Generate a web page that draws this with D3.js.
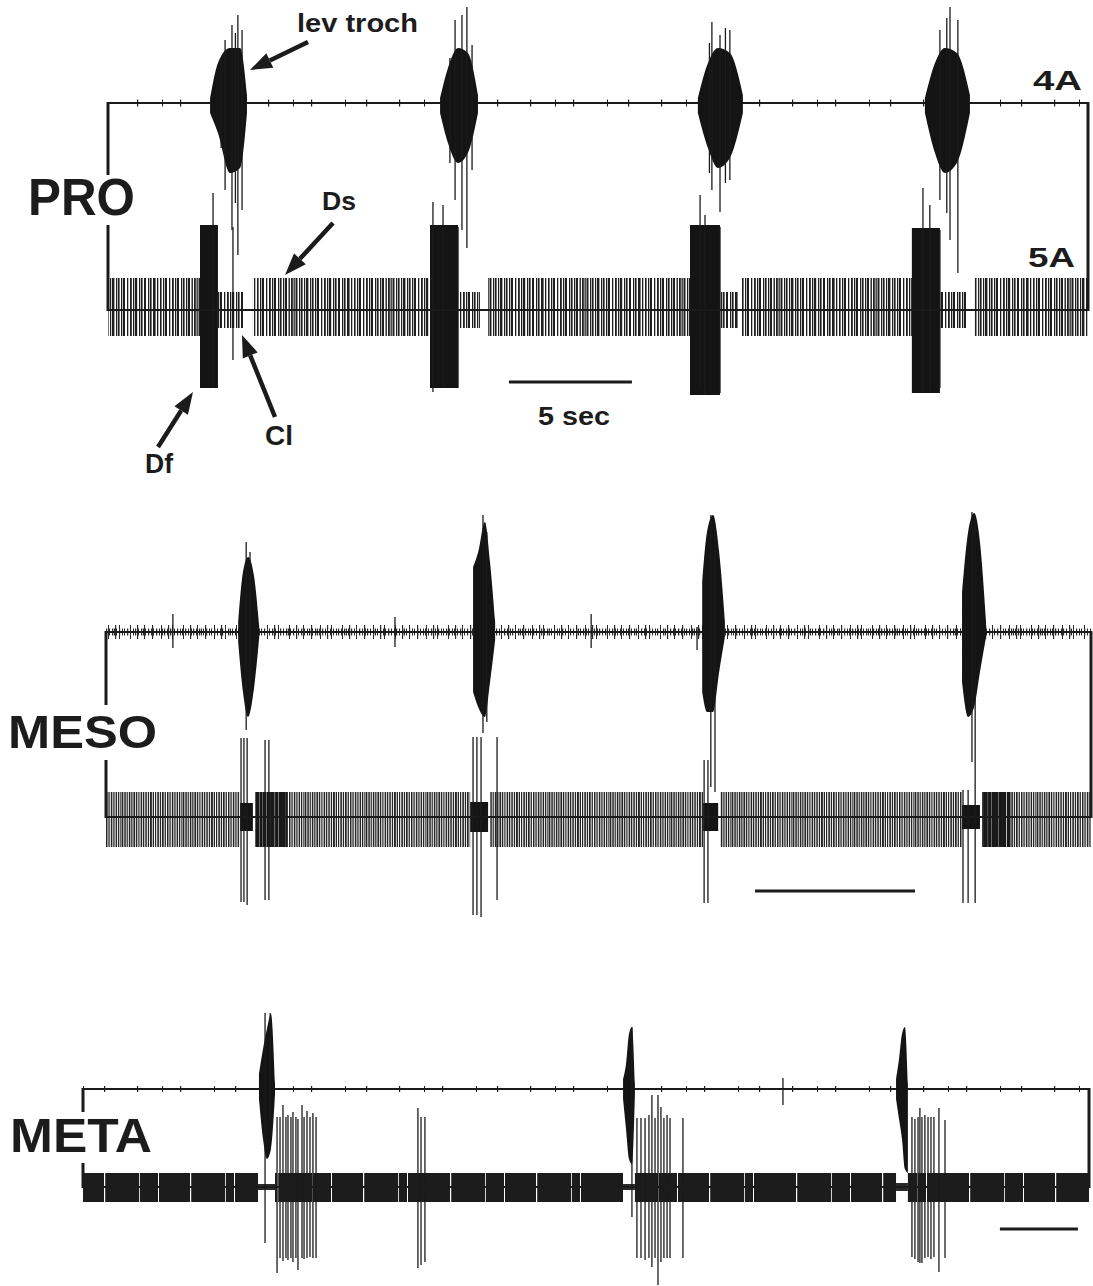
<!DOCTYPE html>
<html>
<head>
<meta charset="utf-8">
<script src="https://cdn.jsdelivr.net/npm/d3@7"></script>
<style>
  body { margin: 0; background: #fff; }
  svg { display: block; }
  text { font-family: "Liberation Sans", Arial, Helvetica, sans-serif; font-weight: bold; fill: #1c1c1c; }
</style>
</head>
<body>
<div id="fig"></div>
<script>
// ---- data (time in seconds, amplitude in relative units, 1 = full gain step) ----

// PRO : 4A (lev troch) bursts, envelope points [t, up, down] + outlying spikes [t, up, down]
const proDuration = 39.84;
const pro4aBursts = [
  { env: [[4.15, .05, .10], [4.47, .40, .30], [4.96, .55, .70], [5.37, .55, .65], [5.65, .08, .10]],
    spikes: [[4.60, .45, .45], [4.76, .63, .87], [5.04, .78, 1.27], [5.18, .70, 1.00], [5.28, .88, 1.52], [5.45, .73, 1.07]] },
  { env: [[13.50, .05, .10], [13.82, .35, .40], [14.23, .55, .60], [14.63, .50, .50], [15.04, .08, .10]],
    spikes: [[13.90, .45, .60], [14.11, .83, .97], [14.39, .88, 1.27], [14.59, .96, 1.45], [14.80, .58, .67]] },
  { env: [[23.98, .05, .10], [24.39, .40, .45], [24.80, .55, .65], [25.28, .50, .55], [25.81, .08, .10]],
    spikes: [[24.45, .60, .70], [24.55, .81, .87], [24.88, .68, 1.09], [25.10, .75, .80], [25.28, .73, .77]] },
  { env: [[33.21, .05, .10], [33.62, .40, .50], [34.02, .55, .70], [34.51, .50, .60], [35.04, .08, .10]],
    spikes: [[33.82, .73, .97], [34.10, .85, 1.10], [34.23, .96, 1.37], [34.55, .83, 1.70]] }
];
// PRO : 5A (Ds tonic, Df bursts, Cl)
const pro5aTonic = [[0, 3.74], [5.89, 13.09], [15.45, 23.66], [25.77, 32.68], [35.24, 39.84]];
const pro5aTonicAmp = [.32, .26];
const pro5aDf = [[3.74, 4.47, .85, .78], [13.09, 14.23, .85, .78], [23.66, 24.88, .85, .85], [32.68, 33.82, .82, .83]];
const pro5aCl = [[4.47, 5.57], [14.23, 15.12], [24.88, 25.61], [33.82, 34.88]];
const pro5aClAmp = [.18, .18];
const pro5aSpikes = [[4.27, 1.17, .78], [5.08, .83, .50], [13.21, 1.08, .82], [13.62, 1.05, .78], [14.23, .83, .78],
  [24.07, 1.15, .80], [24.27, .95, .85], [24.88, .83, .83], [33.13, 1.22, .83], [33.41, 1.05, .80], [33.82, .80, .78]];

// MESO
const mesoDuration = 30.78;
const meso4aBursts = [
  { env: [[4.13, .10, .10], [4.28, .60, .60], [4.44, .75, .85], [4.63, .55, .55], [4.78, .08, .08]],
    spikes: [[4.38, .90, .98], [4.50, .80, .70]] },
  { env: [[11.47, .65, .60], [11.63, .80, .75], [11.84, 1.10, .85], [12.00, .70, .50], [12.16, .10, .08]],
    spikes: [[11.78, 1.17, 1.01], [11.90, 1.00, .90]] },
  { env: [[18.63, .50, .60], [18.78, 1.00, .80], [18.97, 1.17, .80], [19.16, .80, .40], [19.34, .10, .05]],
    spikes: [[18.90, 1.17, 1.55], [19.03, 1.05, 1.60]] },
  { env: [[26.75, .40, .50], [26.94, 1.00, .85], [27.13, 1.19, .75], [27.31, .90, .40], [27.50, .10, .05]],
    spikes: [[27.06, 1.20, 1.30], [27.16, 1.15, 1.58]] }
];
const meso4aIsolated = [[2.09, .18, .16], [9.03, .15, .15], [15.16, .18, .16], [18.47, .05, .18]];
const meso5aTonic = [[0, 4.19], [4.66, 11.38], [12.00, 18.66], [19.19, 26.75], [27.38, 30.78]];
const meso5aTonicAmp = [.25, .30];
const meso5aDense = [[4.66, 5.66, .25, .30], [27.38, 28.30, .25, .30]];
const meso5aDf = [[4.19, 4.59, .14, .14], [11.38, 11.94, .15, .15], [18.66, 19.13, .14, .14], [26.75, 27.31, .12, .12]];
const meso5aSpikes = [[4.22, .79, .85], [4.31, .79, .85], [4.41, .79, .88], [4.97, .77, .83], [5.09, .77, .83],
  [11.47, .80, .98], [11.59, .80, .98], [11.72, .80, 1.00], [12.22, .80, .83],
  [18.69, .57, .86], [18.81, .57, .86], [26.78, .27, .86], [26.94, .27, .86], [27.16, .27, .86]];

// META
const metaDuration = 64.49;
const meta4aBursts = [
  { env: [[11.28, .15, .10], [11.54, .40, .50], [11.79, .60, .70], [12.05, .75, .60], [12.31, .05, .05]],
    spikes: [[11.67, .76, 1.54], [12.00, .76, .30]] },
  { env: [[34.62, .10, .10], [34.81, .25, .40], [35.00, .55, .70], [35.19, .62, .75], [35.38, .05, .05]],
    spikes: [[35.19, .62, 1.28]] },
  { env: [[52.12, .10, .10], [52.31, .30, .30], [52.50, .55, .50], [52.69, .62, .80], [52.88, .05, .84]],
    spikes: [] }
];
const meta4aIsolated = [[44.87, .11, .16]];
const meta5aTonic = [[0, 11.22], [12.31, 34.62], [35.38, 52.12], [52.88, 64.49]];
const meta5aTonicAmp = [.14, .15];
const meta5aQuiet = [[11.22, 12.31, .03, .03], [34.62, 35.38, .03, .03], [52.12, 52.88, .04, .04]];
const meta5aSpikes = [
  [12.44, .70, .86], [12.63, .70, .71], [12.82, .82, .74], [13.01, .70, .71], [13.14, .72, .73],
  [13.33, .70, .71], [13.46, .75, .75], [13.65, .70, .71], [13.78, .68, .83], [14.04, .82, .71],
  [14.17, .70, .72], [14.36, .76, .71], [14.55, .70, .70], [14.74, .74, .71], [14.94, .70, .71],
  [21.47, .79, .81], [21.67, .70, .78], [21.92, .70, .75],
  [35.51, .69, .71], [35.77, .69, .71], [36.03, .69, .73], [36.28, .72, .71], [36.47, .92, .80],
  [36.67, .69, .71], [36.86, .92, .98], [37.05, .80, .75], [37.24, .69, .71], [37.44, .72, .71],
  [37.63, .69, .71], [38.46, .69, .71],
  [53.14, .70, .70], [53.33, .68, .72], [53.53, .70, .75], [53.65, .79, .76], [53.78, .70, .76],
  [53.97, .72, .71], [54.17, .70, .70], [54.36, .70, .72], [54.55, .70, .70], [54.87, .79, .85], [55.26, .67, .71]
];

// 5 s calibration bars (start time in each panel)
const scaleBarStarts = [16.30, 20.28, 58.78];
const scaleBarLength = 5;

// ---- layout / style ----
const W = 1093, H = 1286, ink = "#1b1b1b";
const svg = d3.select("#fig").append("svg").attr("width", W).attr("height", H);
const defs = svg.append("defs");

// spike textures: [offset, width] stripes repeated along the trace
function stripePattern(id, width, stripes, color, bg) {
  const p = defs.append("pattern").attr("id", id)
    .attr("patternUnits", "userSpaceOnUse").attr("width", width).attr("height", H);
  if (bg) p.append("rect").attr("width", width).attr("height", H).attr("fill", bg);
  p.selectAll("rect.s").data(stripes).join("rect").attr("class", "s")
    .attr("x", d => d[0]).attr("width", d => d[1]).attr("height", H).attr("fill", color);
}
stripePattern("tonicPro", 97, [[0, 1.8], [2.5, 1.3], [4.5, 2], [8, 1.3], [10, 1.6], [13, 1.2], [15, 2.4], [19, 1.3],
  [21, 1.6], [24, 1.3], [26, 2], [30, 1.3], [33, 1.8], [36, 1.3], [38, 2.2], [42, 1.3], [44, 1.6], [47, 2],
  [51, 1.3], [53, 1.6], [56, 2.6], [60, 1.3], [63, 1.6], [66, 1.3], [68, 2], [72, 1.3], [75, 1.8], [78, 1.3],
  [80, 2], [84, 1.3], [86, 1.6], [89, 1.3], [91, 2], [94.5, 1.4]], "#1f1f1f");
stripePattern("tonicMeso", 61, [[0, 1.4], [2.3, 1.5], [4.6, 1.2], [6.8, 1.6], [9.2, 1.3], [11.4, 1.8], [14, 1.3],
  [16.3, 1.2], [18.6, 1.6], [21, 1.3], [23.3, 1.5], [25.8, 1.3], [28, 1.9], [30.7, 1.3], [33, 1.2], [35.3, 1.6],
  [37.8, 1.3], [40, 1.7], [42.6, 1.3], [45, 1.5], [47.4, 1.3], [49.8, 1.6], [52.3, 1.3], [54.6, 1.5], [57, 1.3],
  [59.3, 1.2]], "#262626");
stripePattern("denseMeso", 23, [[0, 2.5], [3, 3.5], [7, 2.5], [10, 3.5], [14, 3], [18, 3.5]], "#181818");
stripePattern("tonicMeta", 173, [[17, 1.2], [52, 0.8], [61, 1], [104, 1.2], [139, 0.8], [158, 1]], "#ffffff", "#1c1c1c");
stripePattern("ticksSparse", 131, [[6, 1.2], [31, 1], [49, 1.2], [83, 1], [104, 1.2]], ink);
stripePattern("noiseMeso", 29, [[0, 1], [3, 1.2], [6, 1], [8, 1], [11, 1.3], [14, 1], [17, 1], [19, 1.2],
  [22, 1], [25, 1.3], [27, 1]], "#2a2a2a");
stripePattern("noiseMesoSparse", 53, [[2, 1], [9, 1.2], [13, 1], [24, 1], [31, 1.2], [38, 1], [46, 1.2]], "#2a2a2a");

const panels = [
  { duration: proDuration, x0: 108, x1: 1088, top: 103, bottom: 310, gap: [175, 225], barY: 382,
    bursts: pro4aBursts, isolated: [], noise: [["ticksSparse", .035]],
    tonic: pro5aTonic, tonicAmp: pro5aTonicAmp, tonicFill: "tonicPro",
    blocks: [...pro5aDf.map(d => [...d, "#141414"]), ...pro5aCl.map(d => [...d, ...pro5aClAmp, "url(#tonicPro)"])],
    spikes: pro5aSpikes },
  { duration: mesoDuration, x0: 106, x1: 1091, top: 632, bottom: 817, gap: [705, 760], barY: 891,
    bursts: meso4aBursts, isolated: meso4aIsolated, noise: [["noiseMesoSparse", .07], ["noiseMeso", .035]],
    tonic: meso5aTonic, tonicAmp: meso5aTonicAmp, tonicFill: "tonicMeso",
    blocks: [...meso5aDense.map(d => [...d, "url(#denseMeso)"]), ...meso5aDf.map(d => [...d, "#141414"])],
    spikes: meso5aSpikes },
  { duration: metaDuration, x0: 83, x1: 1089, top: 1089, bottom: 1187, gap: [1112, 1163], barY: 1229,
    bursts: meta4aBursts, isolated: meta4aIsolated, noise: [["ticksSparse", .03]],
    tonic: meta5aTonic, tonicAmp: meta5aTonicAmp, tonicFill: "tonicMeta",
    blocks: meta5aQuiet.map(d => [...d, "#2a2a2a"]),
    spikes: meta5aSpikes }
];

function drawPanel(p, i) {
  const g = svg.append("g");
  const x = d3.scaleLinear().domain([0, p.duration]).range([p.x0, p.x1]);
  const yTop = d3.scaleLinear().domain([-1, 1]).range([p.top + 100, p.top - 100]);
  const yBot = d3.scaleLinear().domain([-1, 1]).range([p.bottom + 100, p.bottom - 100]);

  // 5A tonic firing
  g.selectAll(".tonic").data(p.tonic).join("rect")
    .attr("x", d => x(d[0])).attr("width", d => x(d[1]) - x(d[0]))
    .attr("y", yBot(p.tonicAmp[0])).attr("height", yBot(-p.tonicAmp[1]) - yBot(p.tonicAmp[0]))
    .attr("fill", `url(#${p.tonicFill})`);

  // bursts / dense blocks on 5A
  g.selectAll(".block").data(p.blocks).join("rect")
    .attr("x", d => x(d[0])).attr("width", d => x(d[1]) - x(d[0]))
    .attr("y", d => yBot(d[2])).attr("height", d => yBot(-d[3]) - yBot(d[2]))
    .attr("fill", d => d[4]);

  // background noise on 4A
  p.noise.forEach(([pat, a]) => {
    g.append("rect").attr("x", x(0)).attr("width", x(p.duration) - x(0))
      .attr("y", yTop(a)).attr("height", yTop(-a) - yTop(a)).attr("fill", `url(#${pat})`);
  });

  // baselines
  [p.top, p.bottom].forEach(yy => g.append("line")
    .attr("x1", p.x0).attr("x2", p.x1).attr("y1", yy).attr("y2", yy)
    .attr("stroke", ink).attr("stroke-width", 2));

  // brackets joining the two records
  const br = g.append("g").attr("stroke", ink).attr("stroke-width", 3).attr("fill", "none");
  br.append("line").attr("x1", p.x0).attr("x2", p.x0).attr("y1", p.top - 1).attr("y2", p.gap[0]);
  br.append("line").attr("x1", p.x0).attr("x2", p.x0).attr("y1", p.gap[1]).attr("y2", p.bottom + 1);
  br.append("line").attr("x1", p.x1).attr("x2", p.x1).attr("y1", p.top - 1).attr("y2", p.bottom + 1);

  // 4A bursts
  const area = d3.area().x(d => x(d[0])).y0(d => yTop(-d[2])).y1(d => yTop(d[1])).curve(d3.curveMonotoneX);
  g.selectAll(".burst").data(p.bursts).join("path")
    .attr("d", d => area(d.env)).attr("fill", "#141414");

  const spikes4a = p.bursts.flatMap(b => b.spikes).concat(p.isolated);
  g.selectAll(".sp4").data(spikes4a).join("line")
    .attr("x1", d => x(d[0])).attr("x2", d => x(d[0]))
    .attr("y1", d => yTop(d[1])).attr("y2", d => yTop(-d[2]))
    .attr("stroke", ink).attr("stroke-width", 1.3);

  g.selectAll(".sp5").data(p.spikes).join("line")
    .attr("x1", d => x(d[0])).attr("x2", d => x(d[0]))
    .attr("y1", d => yBot(d[1])).attr("y2", d => yBot(-d[2]))
    .attr("stroke", ink).attr("stroke-width", 1.3);

  // calibration bar
  const s = scaleBarStarts[i];
  g.append("line").attr("x1", x(s)).attr("x2", x(s + scaleBarLength))
    .attr("y1", p.barY).attr("y2", p.barY).attr("stroke", ink).attr("stroke-width", 3);
}
panels.forEach(drawPanel);

// labels
const labels = [
  { text: "PRO", x: 28, y: 215, size: 51, len: 107 },
  { text: "MESO", x: 8, y: 748, size: 47, len: 149 },
  { text: "META", x: 10, y: 1152, size: 48, len: 142 },
  { text: "lev troch", x: 297, y: 32, size: 25, len: 121 },
  { text: "4A", x: 1033, y: 90, size: 28, len: 49 },
  { text: "5A", x: 1028, y: 267, size: 28, len: 47 },
  { text: "Ds", x: 322, y: 210, size: 26, len: 34 },
  { text: "Df", x: 145, y: 473, size: 27, len: 28 },
  { text: "Cl", x: 265, y: 445, size: 27, len: 28 },
  { text: "5 sec", x: 538, y: 425, size: 25, len: 72 }
];
svg.selectAll(".lab").data(labels).join("text")
  .attr("x", d => d.x).attr("y", d => d.y)
  .attr("font-size", d => d.size)
  .attr("textLength", d => d.len).attr("lengthAdjust", "spacingAndGlyphs")
  .text(d => d.text);

// arrows: tail -> tip
const arrows = [
  [[308, 42], [250, 70]],
  [[333, 223], [285, 275]],
  [[158, 447], [193, 392]],
  [[275, 417], [242, 335]]
];
arrows.forEach(([t, h]) => {
  const ang = Math.atan2(h[1] - t[1], h[0] - t[0]);
  const L = 22, hw = 8;
  const bx = h[0] - L * Math.cos(ang), by = h[1] - L * Math.sin(ang);
  svg.append("line").attr("x1", t[0]).attr("y1", t[1]).attr("x2", bx).attr("y2", by)
    .attr("stroke", ink).attr("stroke-width", 4.5);
  const px = -Math.sin(ang) * hw, py = Math.cos(ang) * hw;
  svg.append("path")
    .attr("d", `M${h[0]},${h[1]}L${bx + px},${by + py}L${bx - px},${by - py}Z`)
    .attr("fill", ink);
});
</script>
</body>
</html>
